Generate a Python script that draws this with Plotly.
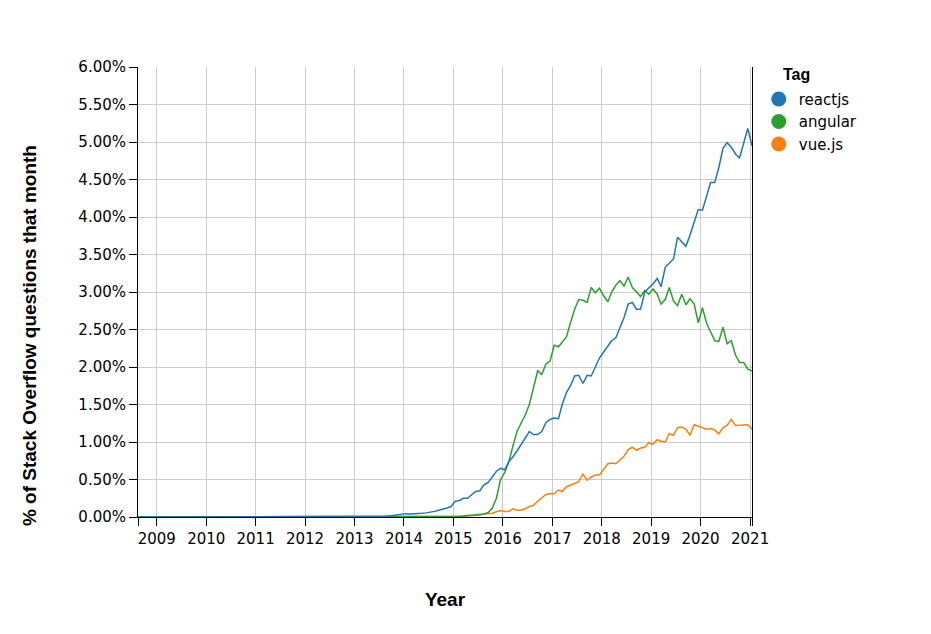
import pandas as pd
import plotly.graph_objects as go

# monthly share of Stack Overflow questions (%), Aug 2008 .. Jan 2021
months = pd.date_range("2008-08-01", "2021-01-01", freq="MS") + pd.Timedelta(days=14)

# years before each tag took off are flat zero
reactjs = (
    [0.0] * 58  # 2008-08 .. 2013-05
    + [0.005, 0.01, 0.01, 0.015, 0.02, 0.03, 0.04]  # 2013-06 .. 12
    + [0.045, 0.04, 0.04, 0.045, 0.05, 0.055, 0.06, 0.075, 0.09, 0.1, 0.12, 0.14]
    + [0.21, 0.22, 0.25, 0.25, 0.3, 0.34, 0.35, 0.43, 0.46, 0.54, 0.61, 0.65]
    + [0.63, 0.74, 0.8, 0.88, 0.97, 1.06, 1.14, 1.1, 1.1, 1.14, 1.26, 1.3]
    + [1.32, 1.31, 1.5, 1.66, 1.75, 1.88, 1.89, 1.78, 1.89, 1.88, 2.0, 2.12]
    + [2.2, 2.28, 2.35, 2.39, 2.52, 2.66, 2.84, 2.86, 2.77, 2.77, 3.0, 3.05]
    + [3.11, 3.18, 3.07, 3.33, 3.38, 3.44, 3.73, 3.67, 3.61, 3.76, 3.92, 4.1]
    + [4.09, 4.28, 4.46, 4.46, 4.66, 4.92, 4.99, 4.93, 4.84, 4.79, 4.99, 5.18]
    + [4.95]
)

angular = (
    [0.0] * 65  # 2008-08 .. 2013-12
    + [0.003] * 12  # 2014
    + [0.01, 0.01, 0.015, 0.02, 0.02, 0.03, 0.04, 0.04, 0.06, 0.12, 0.25, 0.5]
    + [0.59, 0.74, 0.94, 1.14, 1.25, 1.36, 1.5, 1.74, 1.95, 1.9, 2.04, 2.08]
    + [2.29, 2.27, 2.33, 2.4, 2.59, 2.77, 2.9, 2.89, 2.86, 3.06, 2.99, 3.05]
    + [2.95, 2.87, 3.0, 3.09, 3.15, 3.08, 3.2, 3.06, 3.0, 2.94, 3.02, 2.97]
    + [3.04, 2.97, 2.84, 2.9, 3.06, 2.88, 2.82, 2.97, 2.83, 2.91, 2.84, 2.59]
    + [2.79, 2.58, 2.47, 2.35, 2.34, 2.53, 2.31, 2.35, 2.16, 2.06, 2.06, 1.97]
    + [1.95]
)

vuejs = (
    [0.0] * 65  # 2008-08 .. 2013-12
    + [0.0, 0.0, 0.001, 0.001, 0.002, 0.002, 0.003, 0.003, 0.004, 0.004, 0.005, 0.005]
    + [0.005, 0.008, 0.01, 0.012, 0.015, 0.02, 0.025, 0.04, 0.045, 0.05, 0.07, 0.085]
    + [0.075, 0.075, 0.11, 0.09, 0.09, 0.11, 0.14, 0.155, 0.21, 0.25, 0.3, 0.31]
    + [0.31, 0.36, 0.34, 0.4, 0.42, 0.45, 0.47, 0.57, 0.49, 0.53, 0.56, 0.56]
    + [0.63, 0.71, 0.72, 0.71, 0.76, 0.81, 0.9, 0.93, 0.89, 0.92, 0.93, 0.99]
    + [0.97, 1.03, 1.01, 1.0, 1.11, 1.09, 1.19, 1.2, 1.17, 1.09, 1.23, 1.21]
    + [1.19, 1.17, 1.18, 1.16, 1.11, 1.19, 1.22, 1.3, 1.22, 1.22, 1.23, 1.23]
    + [1.17]
)

tags = ["reactjs", "angular", "vue.js"]
series = [reactjs, angular, vuejs]
colors = ["#1f77b4", "#2ca02c", "#ff7f0e"]

years = list(range(2009, 2022))
year_ticks = [pd.Timestamp(f"{y}-01-01") for y in years]
year_labels = [str(y) for y in years]

# the axis also gets a bare tick at each end of the date range
x_tickvals = [months[0]] + year_ticks + [months[-1]]
x_ticktext = [""] + year_labels + [""]

tick_font = dict(family="DejaVu Sans", size=15, color="black")
title_font = dict(family="Liberation Sans, Arial", size=19, color="black")

fig = go.Figure()

# draw vue first so react sits on top
for tag, vals, col in reversed(list(zip(tags, series, colors))):
    fig.add_trace(go.Scatter(
        x=months, y=[v / 100 for v in vals], mode="lines", name=tag,
        line=dict(color=col, width=1.5), showlegend=False,
    ))

# legend entries as filled circles, like the original
for tag, col in zip(tags, colors):
    fig.add_trace(go.Scatter(
        x=[None], y=[None], mode="markers", name=tag,
        marker=dict(color=col, size=15, symbol="circle"),
    ))

fig.update_layout(
    width=916, height=620,
    margin=dict(l=130, r=172, t=59, b=111),
    paper_bgcolor="white", plot_bgcolor="white",
    legend=dict(
        font=tick_font, x=1.011, y=0.965, xanchor="left", yanchor="top",
        tracegroupgap=0, itemclick=False,
    ),
    annotations=[
        dict(text="<b>Tag</b>", xref="paper", yref="paper", x=1.047, y=1.007,
             xanchor="left", yanchor="top", showarrow=False,
             font=dict(family="Liberation Sans, Arial", size=16, color="black")),
        # y title sits a bit below the middle of the axis in the original
        dict(text="<b>% of Stack Overflow questions that month</b>",
             xref="paper", yref="paper", x=-0.1775, y=0.402,
             xanchor="center", yanchor="middle", textangle=-90, showarrow=False,
             font=title_font),
    ],
)

fig.update_xaxes(
    range=[months[0], months[-1]],
    tickvals=x_tickvals, ticktext=x_ticktext,
    showgrid=True, gridcolor="#cccccc", gridwidth=1,
    showline=True, linecolor="black", linewidth=1,
    ticks="outside", ticklen=8, tickcolor="black",
    tickfont=tick_font,
    title=dict(text="<b>Year</b>", font=title_font, standoff=45),
)

fig.update_yaxes(
    range=[0, 0.06], dtick=0.005, tickformat=".2%",
    showgrid=True, gridcolor="#cccccc", gridwidth=1, zeroline=False,
    showline=True, mirror=True, linecolor="black", linewidth=1,
    ticks="outside", ticklen=8, tickcolor="black",
    tickfont=tick_font,
)

fig.write_html("out.html")
